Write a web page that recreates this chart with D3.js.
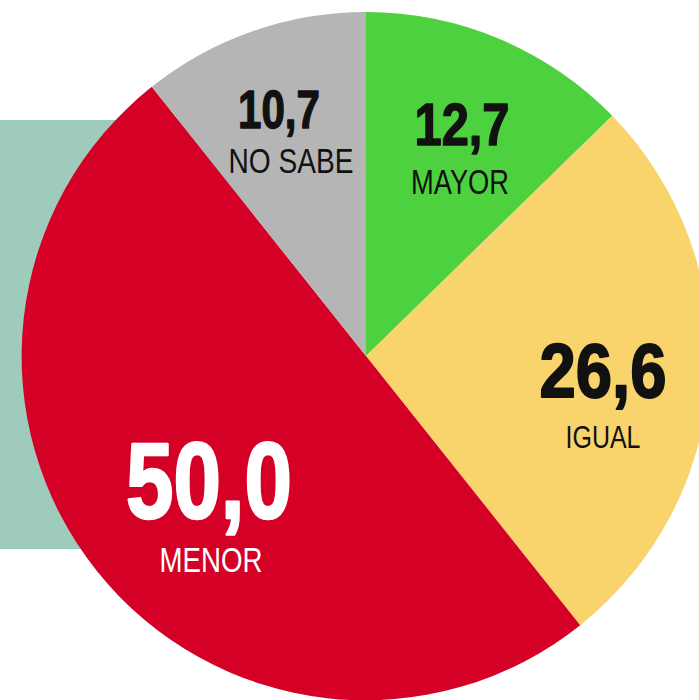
<!DOCTYPE html>
<html><head><meta charset="utf-8">
<script src="https://cdn.jsdelivr.net/npm/d3@7"></script>
<style>html,body{margin:0;padding:0;background:#fff;overflow:hidden}</style>
</head><body>
<svg id="c" width="699" height="700"></svg>
<script>
// data
const categories = ["MAYOR", "IGUAL", "MENOR", "NO SABE"];
const values = [12.7, 26.6, 50.0, 10.7];
const valueLabels = ["12,7", "26,6", "50,0", "10,7"];

// styles
const colors = ["#4dd13f", "#f9d46d", "#d50025", "#b5b5b5"];
const textColors = ["#111", "#111", "#fff", "#111"];
// label layout: target centre, baseline, cap height, width (value / category)
const layout = [
  {vx:462, vb:145, vc:43, vw:95,  cx:460, cb:194, cc:25, cw:98},
  {vx:603, vb:397, vc:55, vw:127, cx:603, cb:448, cc:23, cw:75},
  {vx:209, vb:518, vc:77, vw:166, cx:211, cb:572, cc:25, cw:103},
  {vx:279, vb:128, vc:39, vw:82,  cx:291, cb:173, cc:25, cw:125}
];

const svg = d3.select("#c");
const cx = 366, cy = 356, R = 344;

// teal backdrop
svg.append("rect").attr("x", 0).attr("y", 120).attr("width", 250).attr("height", 429).attr("fill", "#9fcbbd");

const pie = d3.pie().sort(null).value(d => d)(values);
const arc = d3.arc().innerRadius(0).outerRadius(R);
const g = svg.append("g").attr("transform", `translate(${cx},${cy})`);
g.selectAll("path").data(pie).join("path")
  .attr("d", arc).attr("fill", (d, i) => colors[i]);

const CAP = 0.716;
function fitText(txt, x, base, cap, width, weight, color, stroke) {
  const t = svg.append("text")
    .attr("font-family", "Liberation Sans, Arial, sans-serif")
    .attr("font-weight", weight)
    .attr("font-size", cap / CAP)
    .attr("fill", color)
    .attr("text-anchor", "middle")
    .text(txt);
  if (stroke) t.attr("stroke", color).attr("stroke-width", stroke).attr("stroke-linejoin", "round");
  const w = t.node().getComputedTextLength();
  const s = width / w;
  t.attr("transform", `translate(${x},${base}) scale(${s},1)`);
  return t;
}
categories.forEach((c, i) => {
  const L = layout[i];
  fitText(valueLabels[i], L.vx, L.vb, L.vc, L.vw, "bold", textColors[i], L.vc * 0.035);
  fitText(c, L.cx, L.cb, L.cc, L.cw, "normal", textColors[i], 0);
});
</script>
</body></html>
